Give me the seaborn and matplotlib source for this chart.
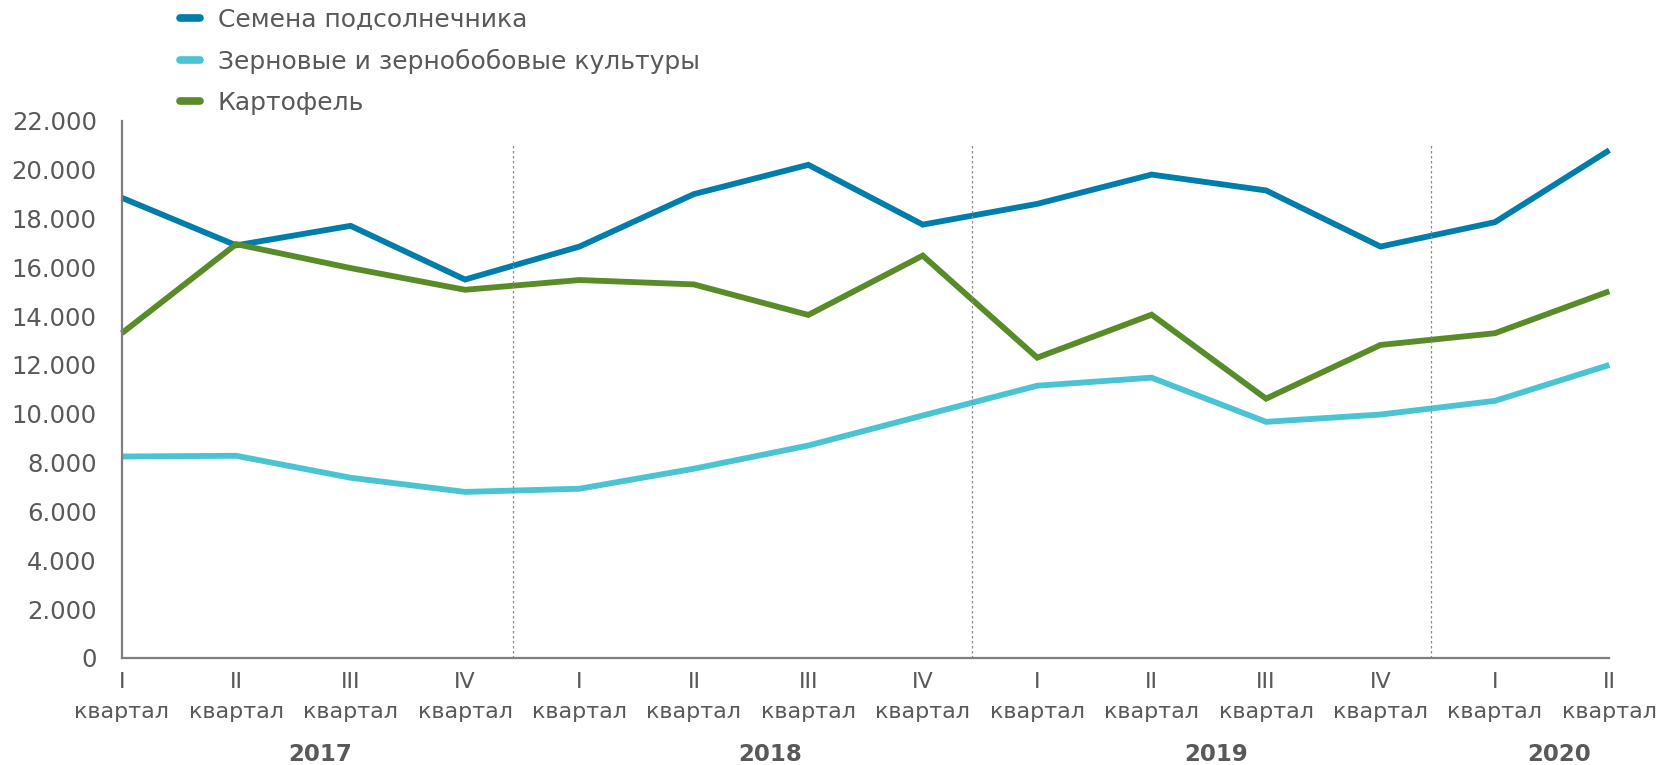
import pandas as pd
import matplotlib
matplotlib.use("Agg")
import matplotlib.pyplot as plt
import matplotlib.ticker as mticker
import seaborn as sns

# quarters on the x axis
quarters = ["I", "II", "III", "IV", "I", "II", "III", "IV", "I", "II", "III", "IV", "I", "II"]
years = ["2017", "2018", "2019", "2020"]

# values
sunflower = [18850, 16900, 17700, 15500, 16850, 19000, 20200, 17750, 18600, 19800, 19150, 16850, 17850, 20800]
grain = [8250, 8280, 7380, 6800, 6930, 7750, 8700, 9930, 11150, 11480, 9670, 9970, 10530, 12000]
potato = [13300, 16950, 15970, 15080, 15480, 15300, 14050, 16480, 12300, 14060, 10620, 12820, 13300, 15020]

series_names = ["Семена подсолнечника", "Зерновые и зернобобовые культуры", "Картофель"]
colors = ["#007DAA", "#4AC3D3", "#5A8B29"]

text_color = "#595959"

df = pd.DataFrame({
    "idx": list(range(len(quarters))) * 3,
    "value": sunflower + grain + potato,
    "series": [series_names[0]] * len(quarters) + [series_names[1]] * len(quarters) + [series_names[2]] * len(quarters),
})

sns.set_style("white")
plt.rcParams["font.family"] = ["DejaVu Sans"]
plt.rcParams["text.color"] = text_color

fig = plt.figure(figsize=(16.61, 7.65), dpi=100)
ax = fig.add_axes([0.0733, 0.140, 0.8956, 0.702])

sns.lineplot(data=df, x="idx", y="value", hue="series", palette=colors,
             linewidth=4.2, ax=ax, legend=False, clip_on=False,
             solid_capstyle="butt", solid_joinstyle="miter")

# dotted year separators
for xs in [3.42, 7.43, 11.44]:
    ax.vlines(xs, 0, 21000, colors="#8c8c8c", linestyles=(0, (2, 2)), linewidth=0.9)

ax.set_xlim(0, len(quarters) - 1)
ax.set_ylim(0, 22000)
ax.set_yticks(range(0, 22001, 2000))
ax.yaxis.set_major_formatter(mticker.FuncFormatter(lambda v, p: f"{int(v):,}".replace(",", ".")))
ax.set_xticks(range(len(quarters)))
ax.set_xticklabels([q + "\nквартал" for q in quarters], linespacing=1.65)

ax.tick_params(axis="y", length=6, width=1.1, color="#7f7f7f", pad=12, labelsize=17.5, labelcolor=text_color)
ax.tick_params(axis="x", length=0, pad=10, labelsize=16, labelcolor=text_color)
ax.set_xlabel("")
ax.set_ylabel("")

for side in ["top", "right"]:
    ax.spines[side].set_visible(False)
for side in ["left", "bottom"]:
    ax.spines[side].set_color("#7f7f7f")
    ax.spines[side].set_linewidth(1.6)

# year labels under the quarters
year_pos = [1.73, 5.67, 9.56, 12.56]
for yr, xp in zip(years, year_pos):
    ax.text(xp, -0.179, yr, transform=ax.get_xaxis_transform(), ha="center", va="center",
            fontsize=16.5, fontweight="bold", color=text_color)

handles = [plt.Line2D([0], [0], color=c, linewidth=5.5, solid_capstyle="round") for c in colors]
fig.legend(handles, series_names, loc="upper left", bbox_to_anchor=(180 / 1661, 1 - 8 / 765),
           frameon=False, fontsize=18, handlelength=0.8, handletextpad=0.7,
           labelspacing=0.68, borderpad=0, borderaxespad=0, labelcolor=text_color)

fig.savefig("out.png", dpi=100)
